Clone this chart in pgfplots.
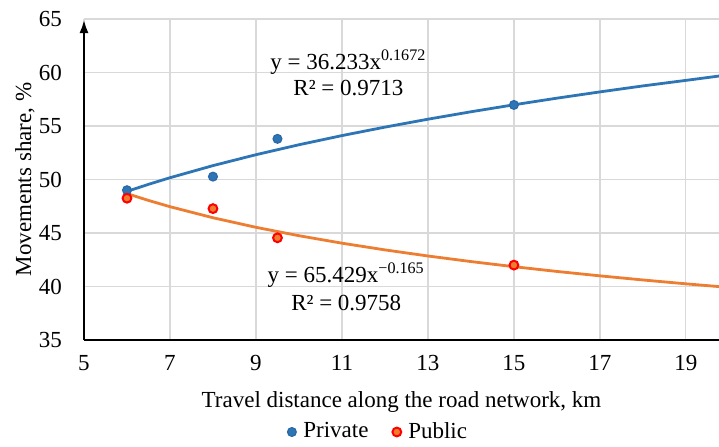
\documentclass[border=0pt]{standalone}
\usepackage{fontspec}
\setmainfont{Liberation Serif}
\usepackage{pgfplots}
\pgfplotsset{compat=1.18}
\usetikzlibrary{arrows.meta}
\definecolor{pblue}{HTML}{2E75B6}
\definecolor{pbluedark}{HTML}{2A68A8}
\definecolor{porange}{HTML}{ED7D31}
\definecolor{pred}{HTML}{FF0000}
\definecolor{gridgray}{HTML}{D9D9D9}
\begin{document}
\fontsize{11.5}{13}\selectfont
\begin{tikzpicture}
\begin{axis}[
  at={(0,0)}, anchor=south west,
  scale only axis, width=317.5pt, height=160.5pt,
  xmin=5, xmax=19.77, ymin=35, ymax=65,
  xtick={5,7,...,19}, ytick={35,40,...,65},
  grid=major, major grid style={gridgray, line width=0.6pt},
  axis x line=bottom, axis y line=left,
  axis line style={line width=1.4pt, black},
  x axis line style={-},
  y axis line style={-{Latex[length=7pt,width=4.5pt]}},
  major tick length=0pt,
  /pgf/number format/assume math mode=true,
  ticklabel style={font=\fontsize{11.5}{13}\selectfont},
  xticklabel style={yshift=-3.5pt},
  yticklabel style={xshift=-7pt},
  xlabel={Travel distance along the road network, km},
  ylabel={Movements share, \%},
  label style={font=\fontsize{11.5}{13}\selectfont},
  xlabel style={at={(axis description cs:0.5,-0.193)}, anchor=center},
  ylabel style={at={(axis description cs:-0.0929,0.5)}, anchor=center, rotate=0},
  legend columns=2,
  legend style={at={(axis description cs:0.465,-0.2866)}, anchor=center, draw=none, fill=none,
    font=\fontsize{11.5}{13}\selectfont,
    /tikz/every odd column/.append style={column sep=1.5pt},
    /tikz/every even column/.append style={column sep=10pt}},
  legend cell align=left,
]
\addplot[pblue, line width=1.4pt, forget plot] coordinates {
(6,48.889) (6.5,49.548) (7,50.166) (8,51.298) (9,52.318) (10,53.248) (11,54.104) (12,54.896)
(13,55.636) (14,56.330) (15,56.983) (16,57.602) (17,58.188) (18,58.747) (19,59.264) (20,59.791)};
\addplot[porange, line width=1.4pt, forget plot] coordinates {
(6,48.683) (6.5,48.044) (7,47.460) (8,46.426) (9,45.532) (10,44.747) (11,44.049) (12,43.421)
(13,42.852) (14,42.331) (15,41.852) (16,41.408) (17,40.996) (18,40.611) (19,40.251) (20,39.912)};
\addplot[only marks, mark=*, mark size=2.2pt, mark options={fill=pblue, draw=pbluedark, line width=0.6pt}] coordinates {
(6,49.0) (8,50.27) (9.5,53.8) (15,56.97)};
\addlegendentry{Private}
\addplot[only marks, mark=*, mark size=2.2pt, mark options={fill=porange, draw=pred, line width=1pt}] coordinates {
(6,48.25) (8,47.28) (9.5,44.55) (15,42.0)};
\addlegendentry{Public}
\node at (axis cs:11.15,60.98) {y = 36.233x\textsuperscript{0.1672}};
\node at (axis cs:11.15,58.55) {R² = 0.9713};
\node at (axis cs:11.1,41.07) {y = 65.429x\textsuperscript{−0.165}};
\node at (axis cs:11.1,38.46) {R² = 0.9758};
\end{axis}
\pgfresetboundingbox
\path[use as bounding box] (-42pt,-53pt) rectangle (317.5pt,170pt);
\end{tikzpicture}
\end{document}
